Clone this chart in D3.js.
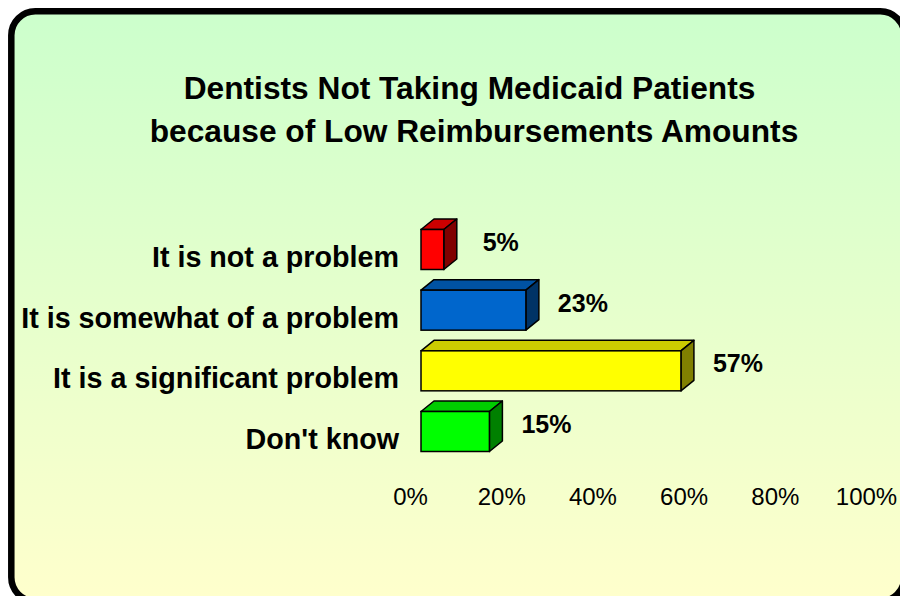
<!DOCTYPE html>
<html>
<head>
<meta charset="utf-8">
<script src="https://cdn.jsdelivr.net/npm/d3@7"></script>
<style>
  html, body { margin: 0; padding: 0; background: #ffffff; }
  svg { display: block; font-family: "Liberation Sans", Arial, sans-serif; }
</style>
</head>
<body>
<svg id="chart" width="900" height="596"></svg>
<script>
// ---- data ----
const titleLines = ["Dentists Not Taking Medicaid Patients", "because of Low Reimbursements Amounts"];
const categories = ["It is not a problem", "It is somewhat of a problem", "It is a significant problem", "Don't know"];
const values = [5, 23, 57, 15];
const tickValues = [0, 20, 40, 60, 80, 100];
// palette (front, top, side)
const frontColors = ["#FF0000", "#0066CC", "#FFFF00", "#00FF00"];
const topColors = ["#CC0000", "#0052A3", "#CCCC00", "#00CC00"];
const sideColors = ["#800000", "#003366", "#808000", "#008000"];

const svg = d3.select("#chart");
const W = 900, H = 596;

// background gradient
const defs = svg.append("defs");
const grad = defs.append("linearGradient").attr("id", "bg").attr("x1", 0).attr("y1", 0).attr("x2", 0).attr("y2", 1);
grad.append("stop").attr("offset", "0%").attr("stop-color", "#CCFFCC");
grad.append("stop").attr("offset", "100%").attr("stop-color", "#FFFFCC");

svg.append("rect").attr("x", 0).attr("y", 0).attr("width", W).attr("height", H).attr("fill", "#ffffff");
svg.append("rect")
  .attr("x", 11.3).attr("y", 11.3).attr("width", 893).attr("height", 590)
  .attr("rx", 24).attr("ry", 24)
  .attr("fill", "url(#bg)").attr("stroke", "#000").attr("stroke-width", 6.5);

// title
svg.append("g").selectAll("text").data(titleLines).join("text")
  .attr("x", (d, i) => i === 0 ? 469.5 : 474)
  .attr("y", (d, i) => 99 + i * 43)
  .attr("text-anchor", "middle")
  .attr("font-size", 31.7).attr("font-weight", "bold").attr("fill", "#000")
  .text(d => d);

// scales
const x = d3.scaleLinear().domain([0, 100]).range([421, 877]);
const y = d3.scalePoint().domain(categories).range([249.5, 431.5]);
const barH = 40, dx = 13, dy = -10.5;

const rows = categories.map((c, i) => ({ c, v: values[i], i }));

const bars = svg.append("g").selectAll("g").data(rows).join("g");
bars.append("polygon") // top
  .attr("points", d => {
    const x0 = x(0), x1 = x(d.v), t = y(d.c) - barH / 2;
    return [[x0, t], [x0 + dx, t + dy], [x1 + dx, t + dy], [x1, t]].map(p => p.join(",")).join(" ");
  })
  .attr("fill", d => topColors[d.i]).attr("stroke", "#000").attr("stroke-width", 1.5).attr("stroke-linejoin", "round");
bars.append("polygon") // side
  .attr("points", d => {
    const x1 = x(d.v), t = y(d.c) - barH / 2, b = t + barH;
    return [[x1, t], [x1 + dx, t + dy], [x1 + dx, b + dy], [x1, b]].map(p => p.join(",")).join(" ");
  })
  .attr("fill", d => sideColors[d.i]).attr("stroke", "#000").attr("stroke-width", 1.5).attr("stroke-linejoin", "round");
bars.append("rect") // front
  .attr("x", x(0)).attr("y", d => y(d.c) - barH / 2)
  .attr("width", d => x(d.v) - x(0)).attr("height", barH)
  .attr("fill", d => frontColors[d.i]).attr("stroke", "#000").attr("stroke-width", 1.5);

// value labels
bars.append("text")
  .attr("x", d => x(d.v) + 57).attr("y", d => y(d.c) + 1.5)
  .attr("text-anchor", "middle")
  .attr("font-size", 25).attr("font-weight", "bold").attr("fill", "#000")
  .text(d => d.v + "%");

// category labels
svg.append("g").selectAll("text").data(categories).join("text")
  .attr("x", 399).attr("y", d => y(d) + 17.5)
  .attr("text-anchor", "end")
  .attr("font-size", 28.7).attr("font-weight", "bold").attr("fill", "#000")
  .text(d => d);

// x axis (labels only)
const axis = d3.axisBottom(x).tickValues(tickValues).tickFormat(d => d + "%").tickSize(0).tickPadding(0);
const ax = svg.append("g").attr("transform", "translate(-11,0)").call(axis);
ax.select(".domain").remove();
ax.selectAll("text")
  .attr("y", 505).attr("dy", null)
  .attr("font-size", 24).attr("font-family", "'Liberation Sans', Arial, sans-serif").attr("fill", "#000");
</script>
</body>
</html>
